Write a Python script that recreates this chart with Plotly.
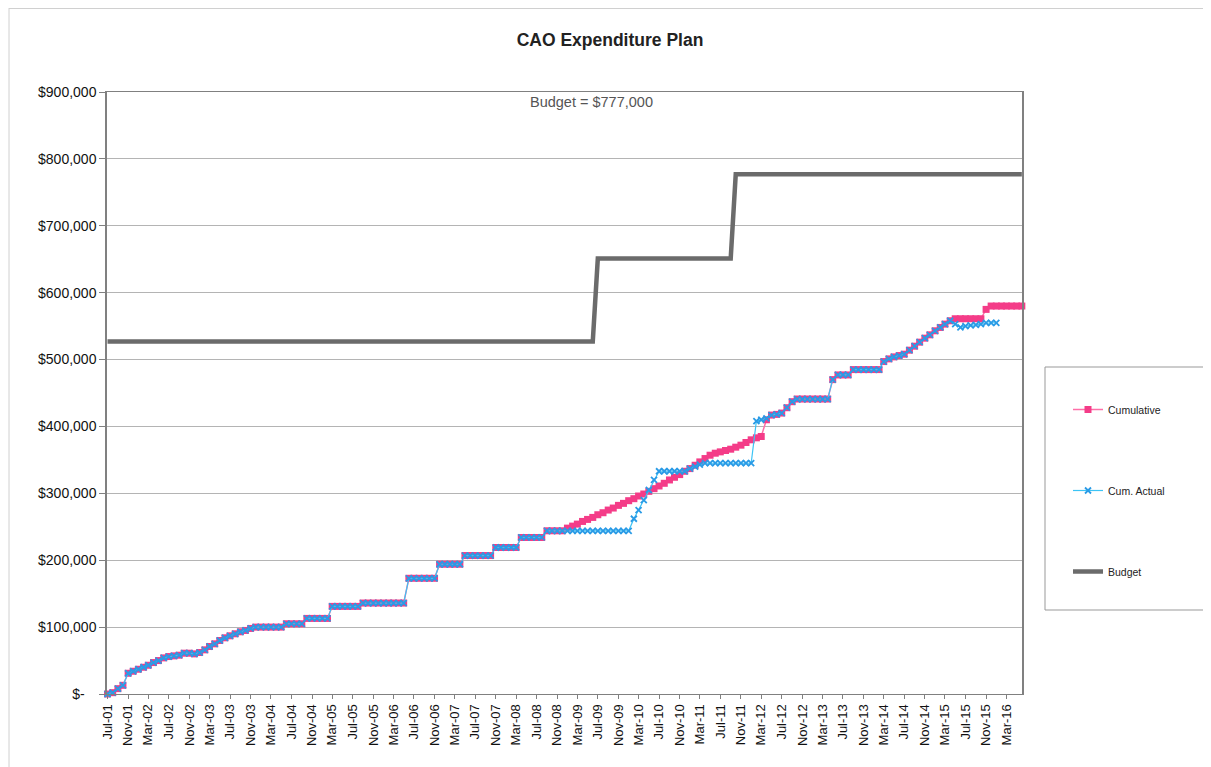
import pandas as pd
import plotly.graph_objects as go

# Monthly categories Jul-01 .. Jun-16
months = pd.date_range("2001-07-01", periods=180, freq="MS")

# Cumulative plan ($ thousands), one row per Jul..Jun year
cumulative_k = [
    0, 2, 8, 13, 31, 34, 37, 40, 43, 47, 50, 54,
    56, 57, 58, 61, 61, 60, 62, 66, 71, 75, 80, 84,
    87, 90, 93, 95, 98, 100, 100, 100, 100, 100, 100, 105,
    105, 105, 105, 113, 113, 113, 113, 113, 131, 131, 131, 131,
    131, 131, 136, 136, 136, 136, 136, 136, 136, 136, 136, 173,
    173, 173, 173, 173, 173, 194, 194, 194, 194, 194, 207, 207,
    207, 207, 207, 207, 219, 219, 219, 219, 219, 234, 234, 234,
    234, 234, 244, 244, 244, 244, 248, 251, 254, 258, 261, 264,
    268, 271, 275, 278, 282, 285, 289, 292, 296, 299, 303, 307,
    311, 315, 320, 324, 328, 333, 337, 342, 347, 352, 357, 360,
    362, 364, 366, 369, 372, 376, 380, 383, 385, 410, 417, 418,
    420, 428, 437, 441, 441, 441, 441, 441, 441, 441, 470, 477,
    477, 477, 485, 485, 485, 485, 485, 485, 497, 501, 504, 506,
    508, 514, 520, 526, 532, 537, 543, 548, 553, 558, 561, 561,
    561, 561, 561, 561, 575, 580, 580, 580, 580, 580, 580, 580,
]

# Cumulative actual ($ thousands)
actual_k = [
    0, 2, 8, 13, 31, 34, 37, 40, 43, 47, 50, 54,
    56, 57, 58, 61, 61, 60, 62, 66, 71, 75, 80, 84,
    87, 90, 93, 95, 98, 100, 100, 100, 100, 100, 100, 105,
    105, 105, 105, 113, 113, 113, 113, 113, 131, 131, 131, 131,
    131, 131, 136, 136, 136, 136, 136, 136, 136, 136, 136, 173,
    173, 173, 173, 173, 173, 194, 194, 194, 194, 194, 207, 207,
    207, 207, 207, 207, 219, 219, 219, 219, 219, 234, 234, 234,
    234, 234, 244, 244, 244, 244, 244, 244, 244, 244, 244, 244,
    244, 244, 244, 244, 244, 244, 244, 262, 275, 290, 305, 320,
    333, 333, 333, 333, 333, 333, 337, 340, 343, 345, 345, 345,
    345, 345, 345, 345, 345, 345, 345, 408, 410, 412, 417, 418,
    420, 428, 437, 441, 441, 441, 441, 441, 441, 441, 470, 477,
    477, 477, 485, 485, 485, 485, 485, 485, 497, 501, 504, 506,
    508, 514, 520, 526, 532, 537, 543, 548, 553, 558, 553, 548,
    550, 551, 552, 553, 555, 555, 555, None, None, None, None, None,
]

# Budget step changes
budget_dates = ["2001-07-01", "2009-06-01", "2009-07-01", "2011-09-01", "2011-10-01", "2016-06-01"]
budget_k = [527, 527, 651, 651, 777, 777]

y_ticks = [0, 100000, 200000, 300000, 400000, 500000, 600000, 700000, 800000, 900000]
y_labels = ["$-" + "\u00a0" * 3, "$100,000", "$200,000", "$300,000", "$400,000",
            "$500,000", "$600,000", "$700,000", "$800,000", "$900,000"]

cumulative = [v * 1000 for v in cumulative_k]
actual = [None if v is None else v * 1000 for v in actual_k]
budget = [v * 1000 for v in budget_k]

FONT = "Liberation Sans, Arial, sans-serif"

W, H = 1203, 759
L, T, R, B = 99, 84, 1014, 686   # plot area in figure pixels
PW, PH = R - L, B - T


def px(xf):
    return (xf - L) / PW


def py(yf):
    return (B - yf) / PH


fig = go.Figure()
fig.add_trace(go.Scatter(
    x=months, y=cumulative, name="Cumulative", mode="lines+markers",
    line=dict(color="#FF6FA8", width=1.5),
    marker=dict(symbol="square", size=7, color="#F43C88"),
    legendgroup="a", cliponaxis=False,
))
fig.add_trace(go.Scatter(
    x=months, y=actual, name="Cum. Actual", mode="lines+markers",
    line=dict(color="#3CC4F5", width=1.2),
    marker=dict(symbol="x-thin", size=6, color="#2A9BE6", line=dict(width=1.8, color="#2A9BE6")),
    legendgroup="b", cliponaxis=False, connectgaps=False,
))
fig.add_trace(go.Scatter(
    x=budget_dates, y=budget, name="Budget", mode="lines",
    line=dict(color="#6B6B6B", width=4.5),
    legendgroup="c", cliponaxis=False,
))

fig.update_layout(
    width=W, height=H,
    margin=dict(l=L, r=W - R, t=T, b=H - B),
    paper_bgcolor="white", plot_bgcolor="white",
    font=dict(family=FONT, color="black"),
    title=dict(text="<b>CAO Expenditure Plan</b>", x=602 / W, y=1 - 32 / H,
               xanchor="center", yanchor="middle",
               font=dict(size=17.5, family=FONT, color="#222")),
    legend=dict(x=px(1060), y=py(387), xanchor="left", yanchor="top",
                font=dict(size=10.5, family=FONT, color="#222"),
                tracegroupgap=62, bgcolor="rgba(0,0,0,0)", borderwidth=0),
    xaxis=dict(
        type="date", range=["2001-06-28", "2016-06-02"],
        tick0="2001-07-01", dtick="M4", tickformat="%b-%y", tickangle=-90,
        ticks="outside", ticklen=4, tickcolor="#808080",
        showgrid=False, showline=True, linecolor="#808080", linewidth=1, mirror=True,
        tickfont=dict(size=13, family=FONT, color="#111"),
    ),
    yaxis=dict(
        range=[0, 900000], tickvals=y_ticks, ticktext=y_labels,
        ticks="outside", ticklen=6, tickcolor="#808080",
        showgrid=True, gridcolor="#b4b4b4", gridwidth=1,
        showline=True, linecolor="#808080", linewidth=1.5, mirror=True,
        zeroline=False,
        tickfont=dict(size=14, family=FONT, color="#111"),
    ),
    annotations=[dict(
        text="Budget = $777,000", xref="paper", yref="paper",
        x=px(583), y=py(94), xanchor="center", yanchor="middle",
        showarrow=False, font=dict(size=14.5, family=FONT, color="#555"),
    )],
    shapes=[
        dict(type="rect", xref="paper", yref="paper",
             x0=px(1037), x1=px(1199), y0=py(602), y1=py(359),
             line=dict(color="#999999", width=1)),
        dict(type="line", xref="paper", yref="paper",
             x0=px(1), x1=px(W), y0=py(0.5), y1=py(0.5),
             line=dict(color="#d0d0d0", width=1)),
        dict(type="line", xref="paper", yref="paper",
             x0=px(1), x1=px(1), y0=py(0), y1=py(H),
             line=dict(color="#d0d0d0", width=1)),
    ],
)

fig.write_html("out.html")
